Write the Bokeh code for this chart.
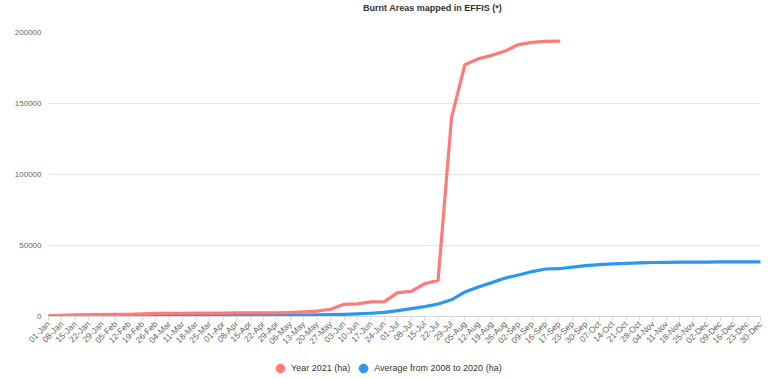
from bokeh.plotting import figure
from bokeh.layouts import column
from bokeh.models import (Range1d, FixedTicker, NumeralTickFormatter, Legend, LegendItem,
                          ColumnDataSource, Label)
from bokeh.embed import file_html
from bokeh.resources import INLINE
import math

# ---- data -------------------------------------------------------------
week_labels = ["01-Jan", "08-Jan", "15-Jan", "22-Jan", "29-Jan", "05-Feb", "12-Feb", "19-Feb",
               "26-Feb", "04-Mar", "11-Mar", "18-Mar", "25-Mar", "01-Apr", "08-Apr", "15-Apr",
               "22-Apr", "29-Apr", "06-May", "13-May", "20-May", "27-May", "03-Jun", "10-Jun",
               "17-Jun", "24-Jun", "01-Jul", "08-Jul", "15-Jul", "22-Jul", "29-Jul", "05-Aug",
               "12-Aug", "19-Aug", "26-Aug", "02-Sep", "09-Sep", "16-Sep", "17-Sep", "23-Sep",
               "30-Sep", "07-Oct", "14-Oct", "21-Oct", "28-Oct", "04-Nov", "11-Nov", "18-Nov",
               "25-Nov", "02-Dec", "09-Dec", "16-Dec", "23-Dec", "30-Dec"]

year_2021 = [200, 500, 900, 1000, 1100, 1200, 1300, 1500, 1900, 2000, 2000, 2100, 2100,
             2100, 2200, 2200, 2200, 2300, 2500, 2900, 3500, 4800, 8300, 8600, 10000, 10200,
             16500, 17400, 22800, 25200, 140000, 177300, 181500, 183900, 187000, 191500,
             193000, 193800, 193900]

avg_2008_2020 = [100, 150, 200, 250, 300, 300, 350, 400, 450, 450, 500, 500, 500, 550, 550,
                 600, 600, 650, 700, 750, 850, 1000, 1200, 1500, 2000, 2600, 3800, 5200, 6700,
                 8500, 11500, 17000, 20500, 23600, 26800, 29000, 31400, 33200, 33400, 34500,
                 35600, 36300, 36800, 37200, 37500, 37800, 37900, 38000, 38100, 38100, 38200,
                 38200, 38200, 38200]

y_ticks = [0, 50000, 100000, 150000, 200000]

title_text = "Burnt Areas mapped in EFFIS (*)"
label_red = "Year 2021 (ha)"
label_blue = "Average from 2008 to 2020 (ha)"

RED = "#ff7b78"
BLUE = "#2a97f4"
FONT = "Liberation Sans"


def strip(height):
    f = figure(width=768, height=height, output_backend="svg", toolbar_location=None,
               x_range=Range1d(0, 1), y_range=Range1d(0, 1),
               x_axis_location=None, y_axis_location=None,
               min_border=0, min_border_left=0, min_border_right=0,
               min_border_top=0, min_border_bottom=0)
    f.outline_line_color = None
    f.grid.grid_line_color = None
    f.background_fill_color = "white"
    f.border_fill_color = "white"
    return f


# ---- title strip ------------------------------------------------------
tf = strip(14)
tf.add_layout(Label(x=384, y=7, x_units="screen", y_units="screen", text=title_text,
                    text_align="center", text_baseline="middle", text_font=FONT,
                    text_font_size="9px", text_font_style="bold", text_color="#333333"))

# ---- main figure ------------------------------------------------------
p = figure(width=768, height=338, output_backend="svg", toolbar_location=None,
           x_range=Range1d(0, len(week_labels) - 1), y_range=Range1d(-300, 200000),
           min_border_left=48, min_border_right=8, min_border_top=18, min_border_bottom=34)

p.outline_line_color = None
p.background_fill_color = "white"
p.border_fill_color = "white"

src_red = ColumnDataSource(dict(x=list(range(len(year_2021))), y=year_2021))
src_blue = ColumnDataSource(dict(x=list(range(len(avg_2008_2020))), y=avg_2008_2020))

p.line("x", "y", source=src_blue, line_color=BLUE, line_width=3.2, line_join="round", line_cap="round")
p.line("x", "y", source=src_red, line_color=RED, line_width=3.2, line_join="round", line_cap="round")

xa = p.xaxis[0]
xa.ticker = FixedTicker(ticks=list(range(len(week_labels))))
xa.major_label_overrides = {i: lab for i, lab in enumerate(week_labels)}
xa.major_label_orientation = math.pi / 4
xa.major_label_text_font = FONT
xa.major_label_text_font_size = "8.5px"
xa.major_label_text_color = "#666666"
xa.axis_line_color = "#d8d8d8"
xa.major_tick_line_color = "#d8d8d8"
xa.major_tick_out = 4
xa.major_tick_in = 0
xa.minor_tick_line_color = None
xa.major_label_standoff = 2

ya = p.yaxis[0]
ya.ticker = FixedTicker(ticks=y_ticks)
ya.formatter = NumeralTickFormatter(format="0")
ya.major_label_text_font = FONT
ya.major_label_text_font_size = "8px"
ya.major_label_text_color = "#666666"
ya.axis_line_color = None
ya.major_tick_line_color = None
ya.minor_tick_line_color = None
ya.major_tick_out = 0
ya.major_label_standoff = 7

p.xgrid.grid_line_color = None
p.ygrid.grid_line_color = "#e6e6e6"

# ---- legend strip -----------------------------------------------------
lf = strip(27)

# legend markers: circles of zero size carrying the two series
s_red = lf.scatter("x", "y", source=src_red, marker="circle", size=0, fill_color=RED, line_color=RED)
s_blue = lf.scatter("x", "y", source=src_blue, marker="circle", size=0, fill_color=BLUE, line_color=BLUE)

legend = Legend(items=[LegendItem(label=label_red, renderers=[s_red]),
                       LegendItem(label=label_blue, renderers=[s_blue])],
                orientation="horizontal", location=(221, 0),
                glyph_width=22, glyph_height=22, label_standoff=0, spacing=2,
                padding=0, margin=0, border_line_color=None, background_fill_alpha=0,
                label_text_font=FONT, label_text_font_size="9px", label_text_color="#333333")
lf.add_layout(legend, "center")

layout = column(tf, p, lf, spacing=0)

open("out.html", "w").write(file_html(layout, INLINE))
